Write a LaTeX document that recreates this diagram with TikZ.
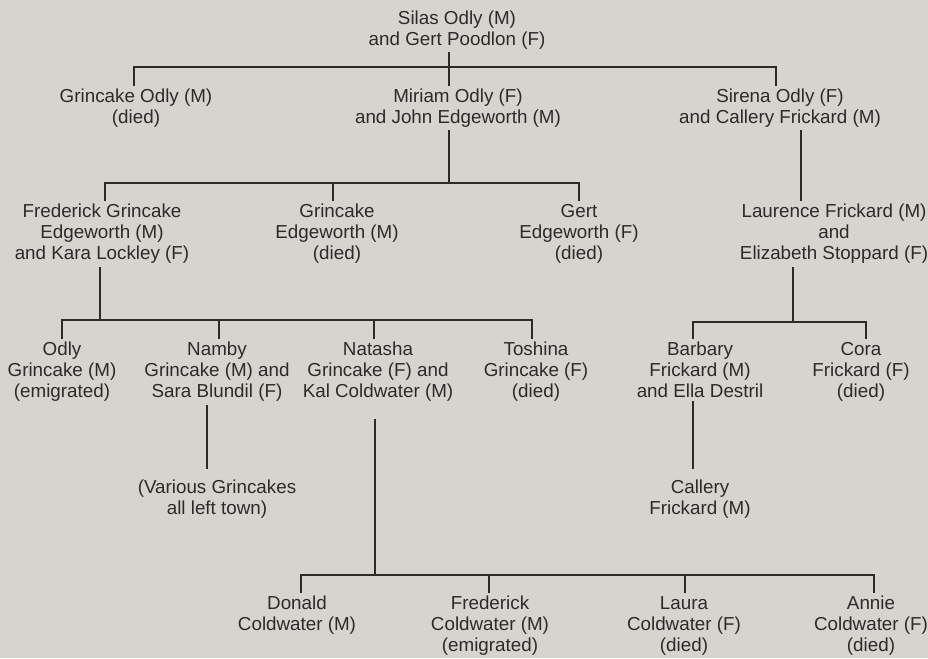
\documentclass[tikz,border=0pt]{standalone}
\usepackage{fontspec}
\setmainfont{Liberation Sans}
\definecolor{bg}{RGB}{214,212,207}
\definecolor{ink}{RGB}{45,42,42}
\begin{document}
\begin{tikzpicture}[x=1pt,y=-1pt,
  person/.style={align=center,inner sep=3pt,text=ink,font=\fontsize{18.8}{21}\selectfont},
  link/.style={draw=ink,line width=2.2pt}]
\fill[bg] (0,0) rectangle (928,658);
\useasboundingbox (0,0) rectangle (928,658);

% nodes
\node[person] (silas) at (457,30) {Silas Odly (M)\\and Gert Poodlon (F)};
\node[person] (gOdly) at (136,108) {Grincake Odly (M)\\(died)};
\node[person] (miriam) at (458,108) {Miriam Odly (F)\\and John Edgeworth (M)};
\node[person] (sirena) at (780,108) {Sirena Odly (F)\\and Callery Frickard (M)};
\node[person] (fred) at (102,234) {Frederick Grincake\\Edgeworth (M)\\and Kara Lockley (F)};
\node[person] (gEdge) at (337,234) {Grincake\\Edgeworth (M)\\(died)};
\node[person] (gert) at (579,234) {Gert\\Edgeworth (F)\\(died)};
\node[person] (laurence) at (834,234) {Laurence Frickard (M)\\and\\Elizabeth Stoppard (F)};
\node[person] (odly) at (62,372) {Odly\\Grincake (M)\\(emigrated)};
\node[person] (namby) at (217,372) {Namby\\Grincake (M) and\\Sara Blundil (F)};
\node[person] (natasha) at (378,372) {Natasha\\Grincake (F) and\\Kal Coldwater (M)};
\node[person] (toshina) at (536,372) {Toshina\\Grincake (F)\\(died)};
\node[person] (barbary) at (700,370) {Barbary\\Frickard (M)\\and Ella Destril};
\node[person] (cora) at (861,372) {Cora\\Frickard (F)\\(died)};
\node[person] (various) at (217,499) {(Various Grincakes\\all left town)};
\node[person] (callery) at (700,499) {Callery\\Frickard (M)};
\node[person] (donald) at (297,615) {Donald\\Coldwater (M)};
\node[person] (fredc) at (490,626) {Frederick\\Coldwater (M)\\(emigrated)};
\node[person] (laura) at (684,626) {Laura\\Coldwater (F)\\(died)};
\node[person] (annie) at (871,626) {Annie\\Coldwater (F)\\(died)};

% junction coordinates
\coordinate (b1l) at (134,67); \coordinate (b1m) at (449,67); \coordinate (b1r) at (776,67);
\coordinate (b2l) at (105,183); \coordinate (b2m) at (449,183); \coordinate (b2c) at (333,183); \coordinate (b2r) at (579,183);
\coordinate (s3) at (801,0);
\coordinate (b3a) at (62,320); \coordinate (b3m) at (100,320); \coordinate (b3b) at (219,320); \coordinate (b3c) at (374,320); \coordinate (b3d) at (532,320);
\coordinate (b4l) at (693,322); \coordinate (b4m) at (793,322); \coordinate (b4r) at (866,322);
\coordinate (v1) at (207,0); \coordinate (v2) at (693,0);
\coordinate (b5a) at (301,575); \coordinate (b5m) at (375,575); \coordinate (b5b) at (489,575); \coordinate (b5c) at (685,575); \coordinate (b5d) at (874,575);

% connectors
\draw[link] (silas.south -| b1m) -- (miriam.north -| b1m);
\draw[link] (gOdly.north -| b1l) -- (b1l) -- (b1r) -- (sirena.north -| b1r);

\draw[link] (miriam.south -| b2m) -- (b2m);
\draw[link] (fred.north -| b2l) -- (b2l) -- (b2r) -- (gert.north -| b2r);
\draw[link] (b2c) -- (gEdge.north -| b2c);

\draw[link] (sirena.south -| s3) -- (laurence.north -| s3);

\draw[link] (fred.south -| b3m) -- (b3m);
\draw[link] (odly.north -| b3a) -- (b3a) -- (b3d) -- (toshina.north -| b3d);
\draw[link] (b3b) -- (namby.north -| b3b);
\draw[link] (b3c) -- (natasha.north -| b3c);

\draw[link] (laurence.south -| b4m) -- (b4m);
\draw[link] (barbary.north -| b4l) -- (b4l) -- (b4r) -- (cora.north -| b4r);

\draw[link,shorten >=8pt] (namby.south -| v1) -- (various.north -| v1);
\draw[link,shorten >=8pt] (barbary.south -| v2) -- (callery.north -| v2);

\draw[link,shorten <=14pt] (natasha.south -| b5m) -- (b5m);
\draw[link] (donald.north -| b5a) -- (b5a) -- (b5d) -- (annie.north -| b5d);
\draw[link] (b5b) -- (fredc.north -| b5b);
\draw[link] (b5c) -- (laura.north -| b5c);
\end{tikzpicture}
\end{document}
